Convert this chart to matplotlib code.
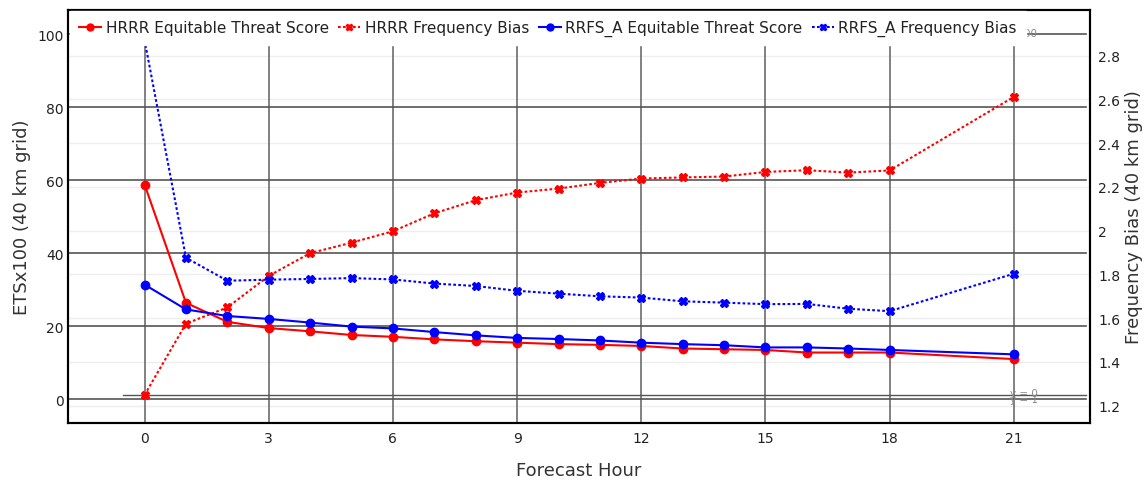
import matplotlib
matplotlib.use("Agg")
import matplotlib.pyplot as plt
from matplotlib.lines import Line2D

# forecast hours on the x axis
hours = [0, 1, 2, 3, 4, 5, 6, 7, 8, 9, 10, 11, 12, 13, 14, 15, 16, 17, 18, 21]

# ETS x100 (left axis)
hrrr_ets = [58.8, 26.4, 21.2, 19.5, 18.6, 17.6, 17.1, 16.4, 15.9, 15.5,
            15.1, 14.9, 14.6, 13.9, 13.7, 13.5, 12.8, 12.8, 12.8, 11.0]
rrfs_ets = [31.4, 24.6, 22.8, 22.0, 21.0, 19.9, 19.4, 18.4, 17.5, 16.8,
            16.5, 16.1, 15.5, 15.1, 14.8, 14.2, 14.2, 13.9, 13.5, 12.3]

# frequency bias (right axis)
hrrr_fb = [1.249, 1.575, 1.649, 1.793, 1.897, 1.945, 1.997, 2.079, 2.139, 2.174,
           2.192, 2.218, 2.238, 2.243, 2.247, 2.268, 2.276, 2.265, 2.275, 2.611]
rrfs_fb = [2.87, 1.876, 1.771, 1.776, 1.779, 1.783, 1.777, 1.758, 1.747, 1.725,
           1.712, 1.700, 1.694, 1.677, 1.671, 1.664, 1.665, 1.643, 1.632, 1.803]

xticks = [0, 3, 6, 9, 12, 15, 18, 21]
left_ticks = [0, 20, 40, 60, 80, 100]
right_ticks = [1.2, 1.4, 1.6, 1.8, 2.0, 2.2, 2.4, 2.6, 2.8]
right_labels = ["1.2", "1.4", "1.6", "1.8", "2", "2.2", "2.4", "2.6", "2.8"]

fig = plt.figure(figsize=(11.46, 4.81), dpi=100)
ax = fig.add_axes([68 / 1146, 1 - 424 / 481, 1022 / 1146, 413 / 481])
ax2 = ax.twinx()

# left axis on top so all data lines sit above the light grid
ax.set_zorder(ax2.get_zorder() + 1)
ax.patch.set_visible(False)
ax2.patch.set_visible(True)
ax2.patch.set_facecolor("white")

ax.set_xlim(-1.85, 22.84)
ax.set_ylim(-6.5, 106.6)
ax2.set_ylim(1.121, 3.008)

# light grid for the right axis
ax2.set_yticks(right_ticks)
ax2.set_yticklabels(right_labels)
ax2.grid(axis="y", color="#eeeeee", lw=1)

# dark grid on the left axis
ax.set_xticks(xticks)
ax.set_yticks(left_ticks)
for t in xticks:
    ax.axvline(t, color="#777777", lw=1.3, zorder=0.5)
for t in left_ticks:
    ax.axhline(t, xmax=0.996, color="#555555", lw=1.2, zorder=0.5)
ax.plot([-0.52, 22.75], [1.1, 1.1], color="#555555", lw=1, zorder=0.5)

ax.text(20.9, 1.7, "y = 0", fontsize=7.5, color="#888888", va="center", zorder=1)
ax.text(20.9, 0.0, "y = 1", fontsize=7.5, color="#888888", va="center", zorder=1)
ax.text(21.55, 98.8, "y = 100", fontsize=7.5, color="#888888", ha="right",
        va="bottom", zorder=1)

red = "#ff0000"
blue = "#0000ff"
dot = (0, (1.3, 1.1))

ax.plot(hours, hrrr_ets, color=red, lw=1.5, marker="o", ms=6, zorder=3)
ax.plot(hours, hrrr_fb, color=red, lw=1.5, ls=dot, marker="X", ms=6,
        transform=ax2.transData, zorder=3)
ax.plot(hours, rrfs_ets, color=blue, lw=1.5, marker="o", ms=6, zorder=3)
ax.plot(hours, rrfs_fb, color=blue, lw=1.5, ls=dot, marker="X", ms=6,
        transform=ax2.transData, zorder=3)

handles = [
    Line2D([], [], color=red, lw=1.5, marker="o", ms=5),
    Line2D([], [], color=red, lw=1.5, ls=dot, marker="X", ms=5),
    Line2D([], [], color=blue, lw=1.5, marker="o", ms=5),
    Line2D([], [], color=blue, lw=1.5, ls=dot, marker="X", ms=5),
]
labels = ["HRRR Equitable Threat Score", "HRRR Frequency Bias",
          "RRFS_A Equitable Threat Score", "RRFS_A Frequency Bias"]
leg = ax.legend(handles, labels, ncol=4, loc="upper left", bbox_to_anchor=(0.002, 0.998),
                borderaxespad=0, fontsize=11, handlelength=1.45, handletextpad=0.3,
                columnspacing=0.6, borderpad=0.6, frameon=True, fancybox=False)
leg.get_frame().set_facecolor("white")
leg.get_frame().set_edgecolor("white")
leg.get_frame().set_alpha(1)
leg.set_zorder(10)
for txt in leg.get_texts():
    txt.set_color("#222222")

ax.tick_params(axis="both", length=0, labelsize=10, labelcolor="#222222")
ax.tick_params(axis="y", pad=3)
ax.tick_params(axis="x", pad=6)
ax2.tick_params(axis="y", length=0, labelsize=10, labelcolor="#222222", pad=6)

for a in (ax, ax2):
    for s in a.spines.values():
        s.set_color("black")
        s.set_linewidth(1.5)

ax.set_ylabel("ETSx100 (40 km grid)", fontsize=13, color="#333333")
ax.yaxis.set_label_coords(-0.036, 0.5)
ax2.set_ylabel("Frequency Bias (40 km grid)", fontsize=13, color="#333333")
ax2.yaxis.set_label_coords(1.034, 0.5)
ax.set_xlabel("Forecast Hour", fontsize=13, color="#333333")
ax.xaxis.set_label_coords(0.5, -0.092)

fig.savefig("out.png", dpi=100)
